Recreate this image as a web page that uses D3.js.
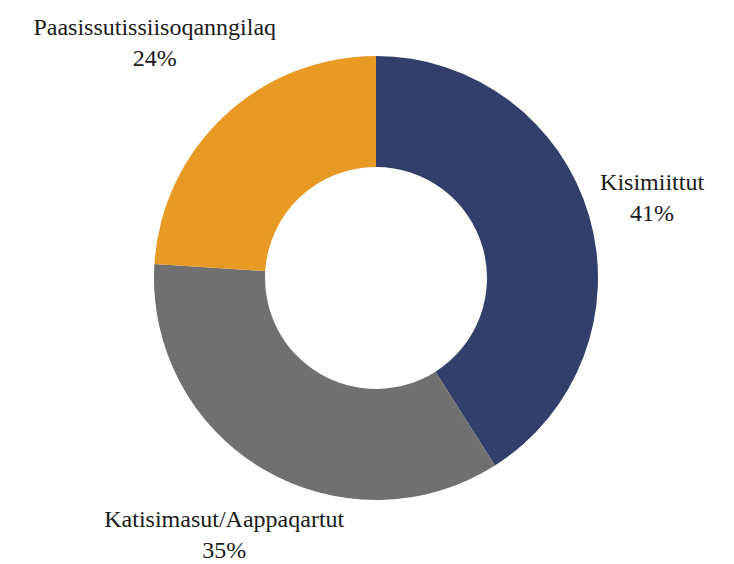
<!DOCTYPE html>
<html>
<head>
<meta charset="utf-8">
<script src="https://cdn.jsdelivr.net/npm/d3@7"></script>
<style>
  body { margin: 0; background: #fff; font-family: 'Liberation Serif', 'Noto Serif', 'DejaVu Serif'; }
</style>
</head>
<body>
<div class="plot"></div>
<script>
const categories = ["Kisimiittut", "Katisimasut/Aappaqartut", "Paasissutissiisoqanngilaq"];
const values = [41, 35, 24];
const colors = ["#323f6b", "#707070", "#e99a24"];

const width = 734, height = 564;
const cx = 376, cy = 278;
const outerR = 222, innerR = 111;
const fontSize = 24, lineH = 31, gap = 8;

const svg = d3.select(".plot")
    .append("svg")
        .attr("width", width)
        .attr("height", height)
        .style("font-family", "'Liberation Serif', 'Noto Serif', 'DejaVu Serif'")
        .style("font-size", fontSize + "px");

const g = svg.append("g")
    .attr("transform", "translate(" + cx + "," + cy + ")");

const pie = d3.pie().sort(null).value(d => d.value);
const arc = d3.arc().innerRadius(innerR).outerRadius(outerR);

const data = categories.map((c, i) => ({name: c, value: values[i], color: colors[i]}));
const arcs = pie(data);

// Slices
g.selectAll("path")
    .data(arcs)
    .enter()
    .append("path")
        .attr("d", arc)
        .attr("fill", d => d.data.color);

// Labels: pushed outward along the mid angle until the box clears the ring
const total = d3.sum(values);
arcs.forEach(d => {
    const mid = (d.startAngle + d.endAngle) / 2;
    const ux = Math.sin(mid), uy = -Math.cos(mid);
    const lg = g.append("g");
    const lines = [d.data.name, Math.round(d.data.value / total * 100) + "%"];
    lines.forEach((s, j) => {
        lg.append("text")
            .attr("x", 0)
            .attr("y", j * lineH)
            .attr("text-anchor", "middle")
            .attr("fill", "#1a1a1a")
            .text(s);
    });
    const bb = lg.node().getBBox();
    const hw = bb.width / 2, hh = bb.height / 2;
    const boxDist = t => {
        const bx = ux * t, by = uy * t;
        const nx = Math.max(Math.abs(bx) - hw, 0), ny = Math.max(Math.abs(by) - hh, 0);
        return Math.hypot(nx, ny);
    };
    let lo = 0, hi = 1000;
    for (let k = 0; k < 50; k++) {
        const m = (lo + hi) / 2;
        if (boxDist(m) >= outerR + gap) hi = m; else lo = m;
    }
    const bx = ux * hi, by = uy * hi;
    // shift so that bbox center lands at (bx, by)
    lg.attr("transform", "translate(" + (bx - (bb.x + hw)) + "," + (by - (bb.y + hh)) + ")");
});
</script>
</body>
</html>
